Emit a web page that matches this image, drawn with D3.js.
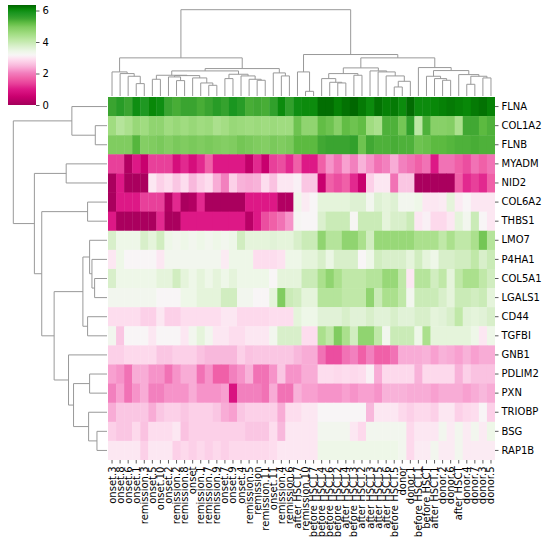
<!DOCTYPE html>
<meta charset="utf-8">
<head>
    <title>Clustered heatmap</title>
    <script src="https://cdn.jsdelivr.net/npm/d3@7"></script>
    <style>
        body { margin: 0; background: #fff; }
        text { font-family: "DejaVu Sans", sans-serif; }
        .dendro path { fill: none; stroke: #999; stroke-width: 1; }
        .tick line { stroke: #333; stroke-width: 0.8; }
        .tick text { fill: #000; font-size: 10px; }
    </style>
</head>
<body>
<script>

// rows (genes), top to bottom in dendrogram order
var genes = ["FLNA", "COL1A2", "FLNB", "MYADM", "NID2", "COL6A2", "THBS1", "LMO7", "P4HA1",
             "COL5A1", "LGALS1", "CD44", "TGFBI", "GNB1", "PDLIM2", "PXN", "TRIOBP", "BSG", "RAP1B"];

// columns (samples), left to right in dendrogram order
var samples = ["onset.3", "onset.8", "onset.6", "onset.1", "remission.3", "onset.5", "onset.10", "onset.2",
               "remission.2", "remission.8", "onset", "remission.1", "remission.7", "remission.9", "onset.7", "onset.9",
               "onset.4", "remission.5", "remission", "remission.11", "onset.11", "remission.4", "remission.6", "after HSCT.7",
               "remission.10", "before HSCT.7", "before HSCT.4", "before HSCT.6", "before HSCT.2", "after HSCT.4", "before HSCT.3", "after HSCT.2",
               "after HSCT.3", "after HSCT.5", "after HSCT.6", "before HSCT.5", "donor", "donor.1", "before HSCT.1", "before HSCT",
               "after HSCT.1", "donor.2", "donor.6", "after HSCT", "donor.4", "donor.7", "donor.3", "donor.5"];

// expression values, one array per gene (same column order as samples)
var vFLNA   = [5.5,5.7,5.5,6.0,5.8,6.1,6.0,5.5,5.4,5.5,5.5,5.4,5.5,5.7,5.55,5.85,5.7,5.4,5.45,5.4,5.6,6.05,5.6,6.0,
               6.05,6.05,6.28,6.28,6.15,6.25,6.33,6.2,6.05,6.25,6.15,6.2,6.05,6.3,6.05,6.05,6.1,6.15,6.2,6.15,6.1,6.2,6.25,6.15];
var vCOL1A2 = [4.55,4.25,4.4,4.65,4.55,4.75,4.75,4.55,4.65,4.55,4.65,4.55,4.6,4.4,4.5,4.65,4.6,4.55,4.6,4.55,4.6,4.55,4.55,5.1,
               4.75,4.75,5.2,5.1,4.85,5.2,5.1,5.2,4.55,4.4,5.35,5.35,5.05,5.6,4.15,5.35,4.85,4.85,4.9,4.4,5.45,5.45,5.25,5.35];
var vFLNB   = [4.95,4.95,4.95,5.3,4.9,4.95,5.0,4.9,5.0,4.95,5.0,4.95,5.0,4.95,4.9,4.95,5.05,5.0,4.95,4.9,5.0,4.95,5.0,5.25,
               5.25,5.25,5.45,5.5,5.5,5.5,5.6,5.1,5.45,5.35,5.35,5.4,5.35,5.35,5.1,5.15,5.25,5.25,5.3,5.35,5.35,5.4,5.35,5.35];
var vMYADM  = [1.35,1.35,0.2,1.0,0.5,1.35,1.35,1.35,0.8,1.15,0.8,1.15,1.7,1.0,1.0,1.0,1.0,0.4,1.15,0.5,1.35,1.5,1.15,1.7,
               1.0,1.0,1.7,2.2,1.9,2.3,2.05,2.45,2.2,1.9,2.05,2.4,2.05,1.9,1.7,1.9,1.0,1.9,1.9,1.7,1.5,1.9,1.7,1.9];
var vNID2   = [0.1,1.0,0.1,0.1,0.1,3.0,2.75,2.9,2.65,2.9,2.5,2.75,2.9,2.4,2.05,2.75,2.45,2.4,2.45,2.9,2.6,3.0,3.0,3.1,
               2.65,2.65,0.5,1.7,1.5,1.7,1.15,0.5,2.75,3.0,3.0,1.9,2.65,2.65,0.1,0.1,0.1,0.1,0.1,1.7,1.15,1.35,1.15,1.7];
var vCOL6A2 = [0.1,1.0,1.0,1.0,1.35,1.35,1.35,0.2,1.15,0.1,0.2,1.15,0.1,0.1,0.1,0.1,0.1,1.0,1.0,1.0,1.0,0.2,0.2,3.35,
               3.05,3.15,3.55,3.55,3.55,3.55,3.65,3.65,3.3,3.65,3.55,3.65,3.3,3.3,3.4,3.0,3.0,3.05,3.55,3.05,3.15,3.0,3.0,3.0];
var vTHBS1  = [1.0,0.1,0.1,0.1,0.1,0.1,1.15,0.1,0.1,1.0,1.0,1.0,1.0,1.0,1.0,1.0,1.0,0.3,1.0,1.5,1.7,1.9,2.2,3.2,
               3.15,3.15,3.7,3.95,3.95,3.95,3.2,3.95,3.95,3.95,3.55,3.75,3.75,3.95,3.0,3.1,2.85,2.85,3.0,3.55,3.3,3.95,3.15,3.0];
var vLMO7   = [3.75,3.4,3.4,3.4,3.75,3.55,3.85,3.4,3.3,3.4,3.3,3.4,3.3,3.4,3.3,3.4,3.85,3.55,3.55,3.55,3.6,3.55,3.55,3.75,
               3.95,3.95,4.75,4.25,4.25,4.75,4.75,4.4,3.85,4.65,4.65,4.65,4.65,4.65,4.4,4.4,4.4,4.1,4.4,4.1,4.1,4.4,5.05,4.25];
var vP4HA1  = [3.0,3.4,3.15,3.15,3.15,3.15,3.0,3.3,3.3,3.3,3.3,3.3,3.3,3.3,3.05,3.4,3.4,3.4,2.9,2.9,2.9,2.95,3.4,3.4,
               3.55,3.55,3.75,3.45,3.75,3.75,3.75,3.15,3.4,3.85,3.75,3.75,3.75,3.55,3.85,3.55,3.4,3.75,3.75,3.85,3.85,4.1,3.75,3.95];
var vCOL5A1 = [3.75,3.4,3.4,3.4,3.4,3.4,3.55,3.55,3.85,3.55,3.4,3.55,3.4,3.55,3.4,3.55,3.4,3.4,3.4,3.4,3.15,3.55,3.55,3.55,
               3.95,3.95,4.4,4.75,4.4,4.1,4.1,4.1,4.25,4.25,4.65,4.65,4.1,3.0,4.25,4.25,3.85,4.1,3.55,4.1,4.4,4.4,4.1,3.85];
var vLGALS1 = [3.3,3.3,3.3,3.3,3.3,3.3,3.15,3.15,3.15,3.4,3.4,3.55,3.55,3.55,3.85,3.85,3.3,3.3,3.15,3.15,3.55,4.95,3.95,3.85,
               3.55,3.55,4.25,4.25,4.25,4.1,4.1,4.1,4.75,3.95,4.4,4.4,4.1,3.3,3.95,3.95,3.95,3.75,3.55,3.95,3.95,3.85,3.95,3.55];
var vCD44   = [2.9,2.9,2.9,2.9,2.75,2.75,3.0,2.75,2.75,2.9,2.9,2.9,2.9,2.9,3.0,3.0,2.85,2.85,2.85,2.85,2.9,2.9,2.9,3.55,
               3.4,3.4,3.6,3.6,3.6,3.75,3.6,3.6,3.75,3.6,3.6,3.75,3.6,3.6,3.75,3.75,3.55,3.6,3.75,4.1,3.6,3.55,3.6,3.75];
var vTGFBI  = [3.3,2.65,3.15,3.15,3.15,3.0,3.15,3.15,3.15,3.0,3.3,3.55,3.3,3.0,3.0,2.9,2.9,3.0,3.0,3.0,3.3,3.75,3.75,3.75,
               2.9,2.9,4.4,4.1,4.95,4.4,3.85,4.75,4.75,4.1,3.3,3.95,3.95,3.95,3.4,4.4,3.55,3.55,3.55,3.55,3.55,3.4,3.0,3.4];
var vGNB1   = [2.75,2.75,2.85,2.85,2.85,2.85,2.65,2.65,2.75,2.75,2.75,2.6,2.5,2.5,2.5,2.5,2.75,2.6,2.65,2.65,2.65,2.65,2.65,2.5,
               2.4,2.4,1.9,1.5,1.5,1.9,2.05,1.7,2.05,1.7,1.7,1.9,2.4,2.4,2.4,2.45,2.3,2.45,2.4,2.3,2.45,2.3,2.4,2.4];
var vPDLIM2 = [2.3,2.2,1.9,2.4,2.4,2.2,2.2,1.9,2.2,2.4,2.4,1.9,2.2,1.7,1.7,2.05,2.2,2.45,1.9,1.9,2.2,2.65,2.2,2.2,
               2.4,2.4,2.9,2.9,2.85,2.9,2.85,2.9,3.1,2.4,2.85,2.85,2.85,2.85,2.45,2.85,2.85,2.85,2.85,2.45,2.75,2.6,2.6,2.6];
var vPXN    = [2.05,2.3,1.9,2.2,2.4,2.05,2.05,2.2,2.2,2.2,2.4,2.2,2.2,2.2,2.3,0.9,2.05,2.05,2.05,1.9,2.4,1.9,1.9,2.45,
               2.3,2.3,2.2,2.2,2.2,2.3,2.2,2.3,2.3,2.2,2.45,2.45,2.45,2.4,2.4,2.4,2.3,2.4,2.4,2.4,2.3,2.4,2.5,2.4];
var vTRIOBP = [2.4,2.65,2.65,2.65,2.65,2.4,2.65,2.75,2.75,2.65,2.75,2.75,2.75,2.65,2.4,2.3,2.65,2.75,2.75,2.75,2.75,2.4,2.9,2.9,
               3.0,3.0,3.15,3.15,3.15,3.15,3.15,3.15,2.5,3.0,3.0,3.0,2.85,2.75,2.85,2.85,2.75,3.0,3.0,2.75,2.85,2.9,3.15,2.75];
var vBSG    = [2.75,2.65,2.65,2.85,2.6,2.9,2.9,2.9,3.0,2.6,2.75,2.75,2.75,2.75,2.75,2.75,2.75,2.65,2.65,2.65,2.9,2.5,3.0,3.0,
               3.0,3.0,3.3,3.3,3.3,3.3,3.0,2.85,3.3,3.3,3.3,3.3,3.3,2.85,3.0,3.0,3.0,3.3,3.05,3.3,3.05,3.3,3.05,3.4];
var vRAP1B  = [3.0,3.0,3.0,3.0,2.75,3.0,3.0,3.0,2.75,2.85,2.75,2.85,2.75,2.85,2.75,2.85,2.85,2.85,2.85,2.85,2.9,3.0,3.0,3.0,
               3.0,3.0,3.4,3.4,3.4,3.4,3.4,3.4,3.4,3.4,3.4,3.4,3.3,2.85,3.05,3.05,3.3,3.05,3.05,3.3,3.05,3.05,3.05,3.05];

// linkage: [left id, right id, distance]; leaves are 0..n-1, merge k gets id n+k
var colLinkage = [
    [3,4,3.7],[2,48,5.9],[1,49,6.7],[0,50,7.2],[5,6,5.0],[8,9,4.6],[7,53,5.7],[12,13,3.2],
    [11,55,3.9],[10,56,5.4],[54,57,6.1],[52,58,6.2],[14,15,5.2],[18,19,4.7],[17,61,5.0],[16,62,6.0],
    [60,63,6.5],[59,64,7.5],[21,22,6.0],[20,66,6.9],[65,67,8.2],[51,68,11.4],[24,25,1.4],[23,70,7.2],
    [28,29,3.9],[27,72,4.1],[26,73,5.2],[30,31,6.2],[74,75,6.7],[35,36,2.7],[77,37,4.4],[34,78,6.0],
    [33,79,7.2],[32,80,7.5],[76,81,8.4],[41,42,4.7],[40,83,5.2],[39,84,5.9],[44,45,3.5],[46,47,5.4],
    [86,87,5.9],[43,88,6.4],[85,89,7.6],[38,90,8.5],[82,91,11.4],[71,92,12.4],[69,93,25.8]
];
var rowLinkage = [
    [1,2,3.5],[0,19,10.5],[3,4,12.2],[5,6,5.8],[9,10,3.7],[8,23,4.5],[7,24,5.2],[11,12,5.8],
    [25,26,7.2],[14,15,5.2],[17,18,3.0],[16,29,5.5],[28,30,10.0],[13,31,11.5],[27,32,15.8],[22,33,19.5],
    [21,34,21.7],[20,35,28.0]
];

var cbarTicks = [0, 2, 4, 6];
var vmin = 0, vmax = 6.35;

// colormap (pink - white - green)
var cmapVals = [0, 0.5, 1.0, 1.35, 1.7, 2.05, 2.3, 2.5, 2.75, 2.95, 3.15, 3.4, 3.75, 4.1, 4.55, 4.95, 5.25, 5.5, 5.85, 6.1, 6.35];
var cmapCols = ['#a3005a','#c8006e','#dd1886','#e8409a','#f060a8','#f280be','#f8a0d0','#f8b8dc','#fcd0e8','#fde2f0','#f8f5f6',
                '#eef7e8','#d8efca','#c0e8a8','#a0dc80','#80cc60','#5cba40','#3aa430','#1a9620','#088808','#006400'];

var matrix = [vFLNA, vCOL1A2, vFLNB, vMYADM, vNID2, vCOL6A2, vTHBS1, vLMO7, vP4HA1, vCOL5A1,
              vLGALS1, vCD44, vTGFBI, vGNB1, vPDLIM2, vPXN, vTRIOBP, vBSG, vRAP1B];

var width = 550, height = 547;
var hm = {left: 108, right: 495, top: 97, bottom: 460};

var svg = d3.select('body').append('svg')
    .attr('width', width)
    .attr('height', height);

var color = d3.scaleLinear().domain(cmapVals).range(cmapCols).clamp(true);

var x = d3.scaleBand().domain(d3.range(samples.length)).range([hm.left, hm.right]);
var y = d3.scaleBand().domain(d3.range(genes.length)).range([hm.top, hm.bottom]);

// heatmap cells
var cells = svg.append('g').attr('id', 'cells');
matrix.forEach(function(row, r){
    cells.selectAll('.r' + r)
        .data(row)
        .enter()
        .append('rect')
        .attr('class', 'r' + r)
        .attr('x', function(d, c){ return x(c); })
        .attr('y', y(r))
        .attr('width', function(d, c){ return c < samples.length - 1 ? x.bandwidth() + 0.4 : x.bandwidth(); })
        .attr('height', r < genes.length - 1 ? y.bandwidth() + 0.4 : y.bandwidth())
        .attr('fill', function(d){ return color(d); });
});

// row labels on the right
svg.append('g')
    .attr('transform', 'translate(' + hm.right + ',0)')
    .call(d3.axisRight(y).tickSize(3.5).tickPadding(3).tickFormat(function(i){ return genes[i]; }))
    .call(function(g){ g.select('.domain').remove(); });

// column labels, rotated
svg.append('g')
    .attr('transform', 'translate(0,' + hm.bottom + ')')
    .call(d3.axisBottom(x).tickSize(3.5).tickPadding(3).tickFormat(function(i){ return samples[i]; }))
    .call(function(g){
        g.select('.domain').remove();
        g.selectAll('.tick text')
            .attr('x', -6.5)
            .attr('y', 0)
            .attr('dy', '0.35em')
            .attr('transform', 'rotate(-90)')
            .style('text-anchor', 'end');
    });

// dendrograms
function drawDendro(g, linkage, nLeaves, posScale, hScale, horizontal){
    var pos = d3.range(nLeaves);
    var hgt = pos.map(function(){ return 0; });
    var line = d3.line();
    linkage.forEach(function(m){
        var a = m[0], b = m[1], h = m[2];
        var pts = [[pos[a], hgt[a]], [pos[a], h], [pos[b], h], [pos[b], hgt[b]]];
        pos.push((pos[a] + pos[b]) / 2);
        hgt.push(h);
        g.append('path').attr('d', line(pts.map(function(p){
            return horizontal ? [posScale(p[0]), hScale(p[1])] : [hScale(p[1]), posScale(p[0])];
        })));
    });
}

var colPos = d3.scaleLinear().domain([-0.5, samples.length - 0.5]).range([hm.left, hm.right]);
var colH = d3.scaleLinear().domain([0, 25.8]).range([hm.top - 1, 9.7]);
drawDendro(svg.append('g').attr('class', 'dendro'), colLinkage, samples.length, colPos, colH, true);

var rowPos = d3.scaleLinear().domain([-0.5, genes.length - 0.5]).range([hm.top, hm.bottom]);
var rowH = d3.scaleLinear().domain([0, 28.0]).range([hm.left - 1, 13.3]);
drawDendro(svg.append('g').attr('class', 'dendro'), rowLinkage, genes.length, rowPos, rowH, false);

// colour bar
var cb = {x: 8, y: 5, w: 28, h: 100};
var cbScale = d3.scaleLinear().domain([vmin, vmax]).range([cb.y + cb.h, cb.y]);
var grad = svg.append('defs').append('linearGradient')
    .attr('id', 'cbgrad')
    .attr('x1', 0).attr('y1', 1).attr('x2', 0).attr('y2', 0);
grad.selectAll('stop')
    .data(d3.range(0, 1.0001, 0.02))
    .enter()
    .append('stop')
    .attr('offset', function(t){ return t; })
    .attr('stop-color', function(t){ return color(vmin + t * (vmax - vmin)); });

svg.append('rect')
    .attr('x', cb.x).attr('y', cb.y)
    .attr('width', cb.w).attr('height', cb.h)
    .attr('fill', 'url(#cbgrad)');

svg.append('g')
    .attr('transform', 'translate(' + (cb.x + cb.w) + ',0)')
    .call(d3.axisRight(cbScale).tickValues(cbarTicks).tickSize(3.5).tickPadding(3).tickFormat(d3.format('d')))
    .call(function(g){ g.select('.domain').remove(); });

</script>
</body>
</html>
